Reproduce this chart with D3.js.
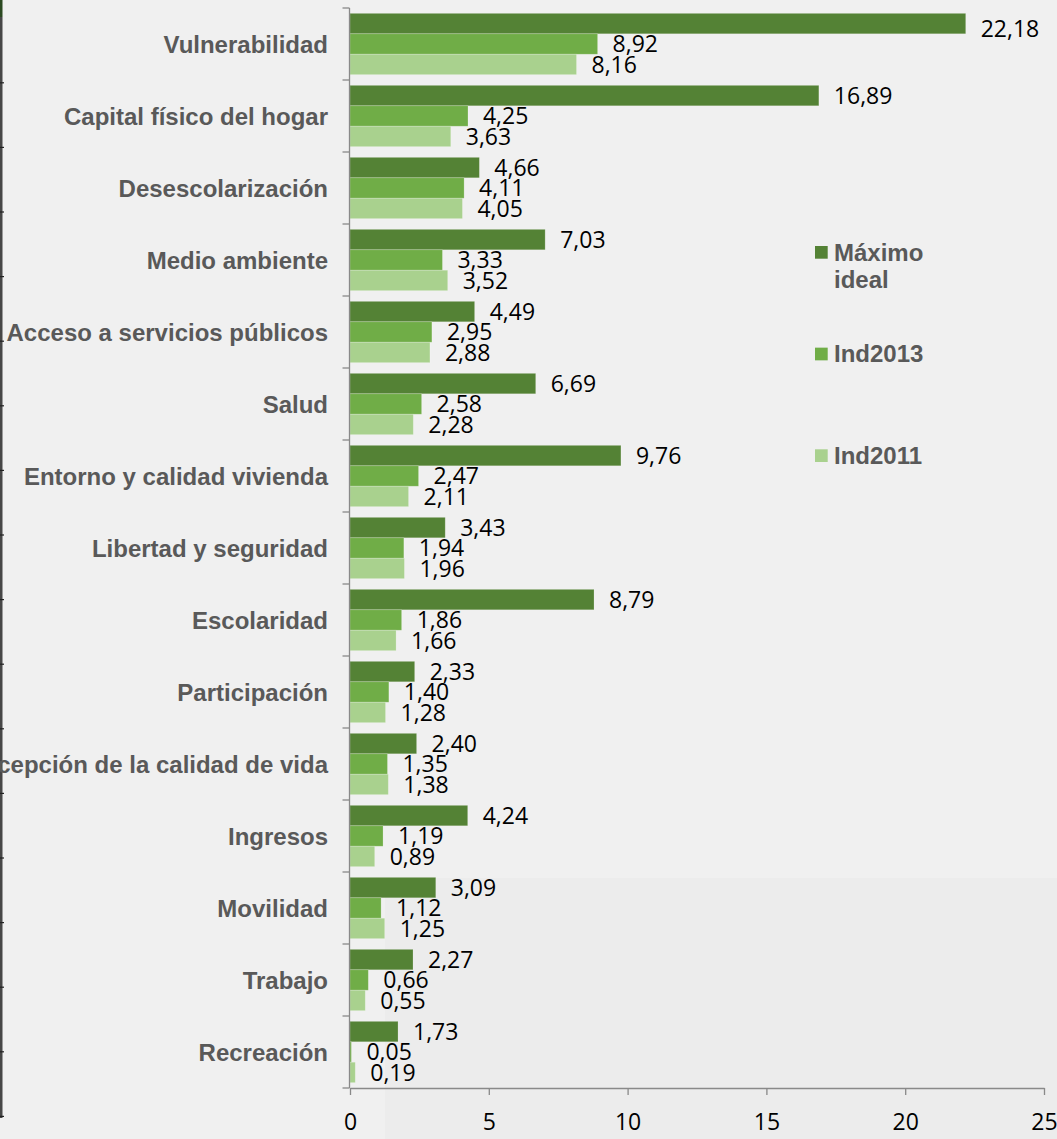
<!DOCTYPE html>
<html>
<head>
<meta charset="utf-8">
<script src="https://cdn.jsdelivr.net/npm/d3@7/dist/d3.min.js"></script>
<style>
html,body{margin:0;padding:0;background:#f0f0f0;}
svg{display:block;}
</style>
</head>
<body>
<svg id="chart" width="1057" height="1139"></svg>
<script>
const categories = ["Vulnerabilidad","Capital físico del hogar","Desescolarización","Medio ambiente","Acceso a servicios públicos","Salud","Entorno y calidad vivienda","Libertad y seguridad","Escolaridad","Participación","Percepción de la calidad de vida","Ingresos","Movilidad","Trabajo","Recreación"];
const seriesNames = ["Máximo ideal","Ind2013","Ind2011"];
const maximoIdeal = [22.18,16.89,4.66,7.03,4.49,6.69,9.76,3.43,8.79,2.33,2.40,4.24,3.09,2.27,1.73];
const ind2013 = [8.92,4.25,4.11,3.33,2.95,2.58,2.47,1.94,1.86,1.40,1.35,1.19,1.12,0.66,0.05];
const ind2011 = [8.16,3.63,4.05,3.52,2.88,2.28,2.11,1.96,1.66,1.28,1.38,0.89,1.25,0.55,0.19];
const xTicks = [0,5,10,15,20,25];
const colors = ["#548235","#70ad47","#a9d18e"];

const seriesValues = [maximoIdeal, ind2013, ind2011];
const svg = d3.select("#chart");
const W = 1057, H = 1139;

// background
svg.append("rect").attr("width",W).attr("height",H).attr("fill","#f0f0f0");
svg.append("rect").attr("x",385).attr("y",878).attr("width",W-385).attr("height",H-878).attr("fill","#ececec");

// left decorative border
svg.append("rect").attr("x",0).attr("y",0).attr("width",2.5).attr("height",17).attr("fill","#2c4a22");
svg.append("rect").attr("x",0).attr("y",17).attr("width",2.5).attr("height",1101).attr("fill","#474747");
const leftTicks = d3.range(17);
svg.selectAll(".lt").data(leftTicks).join("rect")
  .attr("x",0).attr("width",4).attr("height",1.2)
  .attr("y",d=>82.2+d*64.6).attr("fill","#222");

const x = d3.scaleLinear().domain([0,25]).range([350,1044]);
const y0 = d3.scaleBand().domain(categories).range([8,1088]).padding(0);
const y1 = d3.scaleBand().domain(seriesNames).range([5.35, y0.bandwidth()-5.35]).padding(0);

const data = categories.map((c,i)=>({cat:c, vals:seriesNames.map((s,j)=>({s, j, v:seriesValues[j][i]}))}));
const fmt = v => d3.format(".2f")(v).replace(".",",");

const g = svg.selectAll(".grp").data(data).join("g").attr("transform",d=>`translate(0,${y0(d.cat)})`);
g.selectAll("rect").data(d=>d.vals).join("rect")
  .attr("x",x(0))
  .attr("y",d=>y1(d.s))
  .attr("width",d=>x(d.v)-x(0))
  .attr("height",y1.bandwidth())
  .attr("fill",d=>colors[d.j])
  .attr("stroke","rgba(255,255,255,0.25)").attr("stroke-width",0.8);

g.selectAll("text.val").data(d=>d.vals.map(v=>Object.assign({cy:y0(d.cat)},v))).join("text")
  .attr("class","val")
  .attr("x",d=>x(d.v)+15)
  .attr("y",d=>{
    let c = y1(d.s)+y1.bandwidth()/2;
    // keep label box inside the plot top
    if (d.cy + c < 29) c = 29 - d.cy;
    return c + 8.2;
  })
  .attr("font-family","'Open Sans', sans-serif")
  .attr("font-size",23)
  .attr("fill","#000")
  .text(d=>fmt(d.v));

// category axis
const axisColor = "#898989";
svg.append("line").attr("x1",349.5).attr("x2",349.5).attr("y1",8).attr("y2",1088)
  .attr("stroke",axisColor).attr("stroke-width",1.3);
const bounds = categories.map(c=>y0(c)).concat([y0(categories[categories.length-1])+y0.step()]);
svg.selectAll(".ct").data(bounds).join("line")
  .attr("x1",342.5).attr("x2",349.5).attr("y1",d=>d).attr("y2",d=>d)
  .attr("stroke",axisColor).attr("stroke-width",1.3);
svg.selectAll(".cl").data(categories).join("text")
  .attr("x",328).attr("y",d=>y0(d)+y0.bandwidth()/2+8.5)
  .attr("text-anchor","end")
  .attr("font-family","'Liberation Sans', Arial, sans-serif")
  .attr("font-weight","bold").attr("font-size",24).attr("fill","#595959")
  .text(d=>d);

// x axis
const xAxis = d3.axisBottom(x).tickValues(xTicks).tickSize(7).tickSizeOuter(0).tickFormat(d=>String(d));
const xg = svg.append("g").attr("transform","translate(0,1088)").call(xAxis);
xg.select(".domain").attr("stroke",axisColor).attr("stroke-width",1.3);
xg.selectAll(".tick line").attr("stroke",axisColor).attr("stroke-width",1.3);
xg.selectAll(".tick text").attr("font-family","'Open Sans', sans-serif").attr("font-size",23)
  .attr("fill","#000").attr("y",null).attr("dy",null)
  .attr("transform","translate(0,42)");

// legend
const legendY = d3.scaleLinear().domain([0,2]).range([246,449.3]);
const lg = svg.selectAll(".lg").data(seriesNames).join("g")
  .attr("transform",(d,i)=>`translate(815,${legendY(i)})`);
lg.append("rect").attr("width",12.7).attr("height",12.7).attr("fill",(d,i)=>colors[i]);
lg.each(function(d){
  const t = d3.select(this).append("text")
    .attr("font-family","'Liberation Sans', Arial, sans-serif")
    .attr("font-weight","bold").attr("font-size",24).attr("fill","#595959");
  d.split(" ").forEach((w,k)=>{
    t.append("tspan").attr("x",19).attr("y",14.8+k*27.5).text(w);
  });
});
</script>
</body>
</html>
